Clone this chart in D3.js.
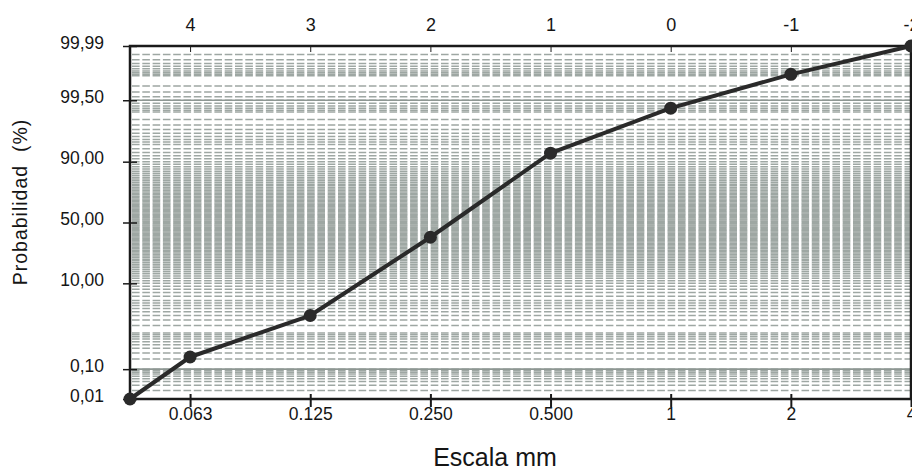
<!DOCTYPE html>
<html>
<head>
<meta charset="utf-8">
<script src="https://cdn.jsdelivr.net/npm/d3@7"></script>
<style>
  body { margin: 0; background: #fff; }
  text { font-family: "Liberation Sans", Arial, sans-serif; fill: #151515; }
</style>
</head>
<body>
<svg id="chart" width="912" height="471"></svg>
<script>
// curve data: phi value and cumulative probability (%)
const phiValues = [4.5, 4, 3, 2, 1, 0, -1, -2];
const cumProb = [0.01, 0.23, 2.5, 37.8, 92.8, 99.2, 99.91, 99.99];

// axis ticks
const phiTicks = [4, 3, 2, 1, 0, -1, -2];
const mmLabels = ["0.063", "0.125", "0.250", "0.500", "1", "2", "4"];
const probTicks = [99.99, 99.5, 90, 50, 10, 0.1, 0.01];
const probLabels = ["99,99", "99,50", "90,00", "50,00", "10,00", "0,10", "0,01"];

// probability paper rulings (%)
const gridProb = [].concat(
    d3.range(0.01, 0.095, 0.01),
    d3.range(0.1, 0.95, 0.1),
    [1.5, 2.5, 3.5, 4.5],
    d3.range(1, 100, 1),
    [95.5, 96.5, 97.5, 98.5],
    d3.range(99.1, 99.95, 0.1),
    d3.range(99.91, 99.995, 0.01)
);
const majorGridProb = [0.1, 99.5];

// inverse normal cdf (Acklam)
function probit(p)
{
    const a = [-39.69683028665376, 220.9460984245205, -275.9285104469687, 138.3577518672690, -30.66479806614716, 2.506628277459239];
    const b = [-54.47609879822406, 161.5858368580409, -155.6989798598866, 66.80131188771972, -13.28068155288572];
    const c = [-0.007784894002430293, -0.3223964580411365, -2.400758277161838, -2.549732539343734, 4.374664141464968, 2.938163982698783];
    const d = [0.007784695709041462, 0.3224671290700398, 2.445134137142996, 3.754408661907416];
    const pl = 0.02425;
    let q, r;
    if (p < pl) {
        q = Math.sqrt(-2 * Math.log(p));
        return (((((c[0]*q+c[1])*q+c[2])*q+c[3])*q+c[4])*q+c[5]) / ((((d[0]*q+d[1])*q+d[2])*q+d[3])*q+1);
    }
    if (p > 1 - pl) {
        q = Math.sqrt(-2 * Math.log(1 - p));
        return -(((((c[0]*q+c[1])*q+c[2])*q+c[3])*q+c[4])*q+c[5]) / ((((d[0]*q+d[1])*q+d[2])*q+d[3])*q+1);
    }
    q = p - 0.5;
    r = q * q;
    return (((((a[0]*r+a[1])*r+a[2])*r+a[3])*r+a[4])*r+a[5])*q / (((((b[0]*r+b[1])*r+b[2])*r+b[3])*r+b[4])*r+1);
}

const z = pct => probit(pct / 100);

const plotLeft = 130, plotRight = 911, plotTop = 46, plotBottom = 399;

const x = d3.scaleLinear().domain([4.5, -2]).range([plotLeft, plotRight]);
const y = d3.scaleLinear().domain([z(0.01), z(99.99)]).range([plotBottom, plotTop]);

const svg = d3.select("#chart");

// rulings
const grid = svg.append("g").attr("class", "grid");

grid.selectAll("line.minor")
    .data(gridProb)
    .join("line")
    .attr("class", "minor")
    .attr("x1", plotLeft + 2)
    .attr("x2", plotRight)
    .attr("y1", d => y(z(d)))
    .attr("y2", d => y(z(d)))
    .attr("stroke", "#9ea7a3")
    .attr("stroke-width", 1.5)
    .attr("stroke-dasharray", "7.6,2.7");

grid.selectAll("line.major")
    .data(majorGridProb)
    .join("line")
    .attr("class", "major")
    .attr("x1", plotLeft)
    .attr("x2", plotRight)
    .attr("y1", d => y(z(d)))
    .attr("y2", d => y(z(d)))
    .attr("stroke", "#8e9793")
    .attr("stroke-width", 1.6);

// top axis (phi)
const topAxis = svg.append("g")
    .attr("transform", `translate(0,${plotTop})`)
    .call(d3.axisTop(x).tickValues(phiTicks).tickSizeInner(-6).tickSizeOuter(0).tickPadding(15).tickFormat(d => String(d)));

// bottom axis (mm)
const bottomAxis = svg.append("g")
    .attr("transform", `translate(0,${plotBottom})`)
    .call(d3.axisBottom(x).tickValues(phiTicks).tickSizeInner(8).tickSizeOuter(0).tickPadding(1)
        .tickFormat((d, i) => mmLabels[i]));

// left axis (probability)
const leftAxis = svg.append("g")
    .attr("transform", `translate(${plotLeft},0)`)
    .call(d3.axisLeft(y).tickValues(probTicks.map(z)).tickSizeInner(7).tickSizeOuter(0).tickPadding(19)
        .tickFormat((d, i) => probLabels[i]));

leftAxis.selectAll(".tick line").attr("x1", 7).attr("x2", -7).attr("stroke-width", 1.5);
leftAxis.selectAll(".tick text").attr("dy", "0.12em");
bottomAxis.selectAll(".tick line").attr("y1", -5).attr("stroke-width", 2);

[topAxis, bottomAxis, leftAxis].forEach(g => {
    g.select(".domain").remove();
    g.selectAll(".tick line").attr("stroke", "#1a1a1a");
    g.selectAll(".tick text")
        .attr("font-family", "Liberation Sans, Arial, sans-serif")
        .attr("font-size", 17.5)
        .attr("fill", "#111");
});
topAxis.selectAll(".tick text").attr("font-size", 18);

// frame
svg.append("rect")
    .attr("x", plotLeft)
    .attr("y", plotTop)
    .attr("width", plotRight - plotLeft)
    .attr("height", plotBottom - plotTop)
    .attr("fill", "none")
    .attr("stroke", "#1a1a1a")
    .attr("stroke-width", 2.5);

// curve
const pts = phiValues.map((p, i) => [x(p), y(z(cumProb[i]))]);

svg.append("path")
    .datum(pts)
    .attr("d", d3.line())
    .attr("fill", "none")
    .attr("stroke", "#2a2a2a")
    .attr("stroke-width", 4)
    .attr("stroke-linejoin", "round");

svg.selectAll("circle.pt")
    .data(pts)
    .join("circle")
    .attr("class", "pt")
    .attr("cx", d => d[0])
    .attr("cy", d => d[1])
    .attr("r", 6.5)
    .attr("fill", "#2a2a2a");

// titles
svg.append("text")
    .attr("x", 495)
    .attr("y", 466)
    .attr("text-anchor", "middle")
    .attr("font-size", 25)
    .text("Escala mm");

svg.append("text")
    .attr("transform", "translate(27,202) rotate(-90)")
    .attr("text-anchor", "middle")
    .attr("font-size", 19.5)
    .attr("letter-spacing", 1)
    .style("white-space", "pre")
    .text("Probabilidad  (%)");
</script>
</body>
</html>
